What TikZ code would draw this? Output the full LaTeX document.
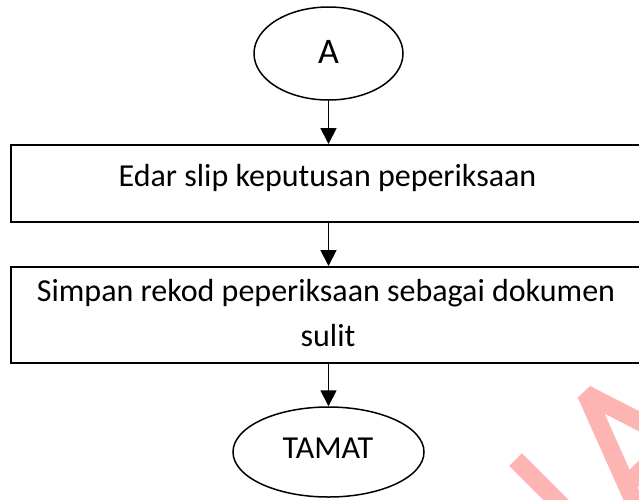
\documentclass[tikz,border=0pt]{standalone}
\usepackage{fontspec}
\setmainfont{Carlito}
\usetikzlibrary{arrows.meta,shapes.geometric}
\definecolor{wm}{RGB}{255,180,180}
\begin{document}
\begin{tikzpicture}[x=1pt,y=-1pt,
 boxnode/.style={draw,line width=2pt,rectangle,minimum width=635pt,inner sep=0pt},
 termnode/.style={draw,line width=1.5pt,ellipse,inner sep=0pt},
 txt/.style={font=\fontsize{32}{38}\selectfont,anchor=base,inner sep=0pt},
 flow/.style={line width=1.8pt,-{Triangle[length=16pt,width=16pt]}},
 wmline/.style={wm,line width=18pt,line join=bevel}]
\useasboundingbox (0,0) rectangle (639,499);
\clip (0,0) rectangle (639,499);
% watermark fragment
\draw[wmline] (515.5,459.5) -- (572,516);
\draw[wmline] (662,433) -- (586,394) -- (640,515);
\draw[wmline] (625,487) -- (668,444);
% flowchart
\node[termnode,minimum width=149pt,minimum height=93pt] (A) at (328.5,53.5) {};
\node[font=\fontsize{36}{40}\selectfont,anchor=base,inner sep=0pt] (tA) at (328.5,63) {A};
\node[boxnode,minimum height=77pt] (b1) at (328.5,183.5) {};
\node[txt] (t1) at (327.5,186) {Edar slip keputusan peperiksaan};
\node[boxnode,minimum height=96pt] (b2) at (328.5,315) {};
\node[txt] (t2a) at (326,301) {Simpan rekod peperiksaan sebagai dokumen};
\node[txt] (t2b) at (328,346) {sulit};
\node[termnode,minimum width=191pt,minimum height=90pt] (T) at (328.5,452) {};
\node[txt] (tT) at (328,458) {TAMAT};
\draw[flow] (A.south) -- (b1.north);
\draw[flow] (b1.south) -- (b2.north);
\draw[flow] (b2.south) -- (T.north);
\end{tikzpicture}
\end{document}
